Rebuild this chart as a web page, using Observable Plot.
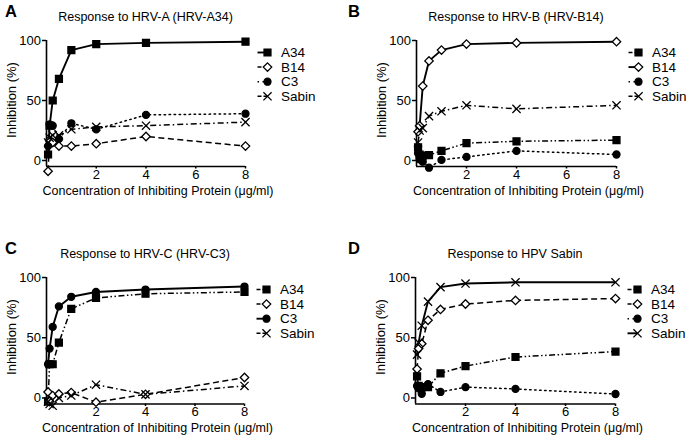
<!DOCTYPE html>
<html><head><meta charset="utf-8">
<script src="https://cdn.jsdelivr.net/npm/d3@7"></script>
<script src="https://cdn.jsdelivr.net/npm/@observablehq/plot@0.6"></script>
<style>
body{margin:0;background:#fff;}
#root{position:relative;width:686px;height:439px;font-family:"Liberation Sans",Arial,sans-serif;color:#000;overflow:hidden;}
.panel{position:absolute;}
</style></head><body><div id="root"></div>
<script>
// ---- data ----
const conc = [0.0625, 0.125, 0.25, 0.5, 1, 2, 4, 8];
const seriesNames = ["A34", "B14", "C3", "Sabin"];
const panelLetters = ["A", "B", "C", "D"];
const panelTitles = ["Response to HRV-A (HRV-A34)", "Response to HRV-B (HRV-B14)", "Response to HRV-C (HRV-C3)", "Response to HPV Sabin"];
const yTicks = [0, 50, 100];
const xTicks = [2, 4, 6, 8];
const xLabel = "Concentration of Inhibiting Protein (\u03bcg/ml)";
const yLabel = "Inhibition (%)";

// Panel A: Response to HRV-A
const a_A34   = [5, 29, 50, 68, 92, 97, 98, 99];
const a_B14   = [-9, 17, 15, 12, 12, 14, 20, 12];
const a_C3    = [12, 30, 29, 18, 31, 26, 38, 39];
const a_Sabin = [15, 19, 21, 21, 26, 28, 29, 32];
// Panel B: Response to HRV-B
const b_A34   = [11, 5, 4, 4.5, 8, 14.5, 16, 17];
const b_B14   = [24, 29, 62, 83, 92, 97, 98, 99];
const b_C3    = [6, 1, -1, -6, 0.5, 3, 8, 5];
const b_Sabin = [15, 25, 27, 37, 41, 46, 43, 46];
// Panel C: Response to HRV-C
const c_A34   = [-3, 28, 28, 46, 74, 83, 86.5, 88];
const c_B14   = [5, -3, 2, 3.3, 4.5, -3.5, 3, 17];
const c_C3    = [28, 41, 59, 76, 84, 88, 90, 92.5];
const c_Sabin = [-3, -5, -6.5, 0, 2, 11, 3, 10];
// Panel D: Response to HPV Sabin
const d_A34   = [18, 10, 9, 9, 20.5, 26.5, 34, 38.5];
const d_B14   = [24, 41, 45, 64.5, 73.5, 78, 81, 82.5];
const d_C3    = [10, 8, 3.5, 11.5, 5, 9, 7.5, 3.3];
const d_Sabin = [36, 46, 60, 80, 92, 95, 96, 96];

const panelData = [
  {A34: a_A34, B14: a_B14, C3: a_C3, Sabin: a_Sabin},
  {A34: b_A34, B14: b_B14, C3: b_C3, Sabin: b_Sabin},
  {A34: c_A34, B14: c_B14, C3: c_C3, Sabin: c_Sabin},
  {A34: d_A34, B14: d_B14, C3: d_C3, Sabin: d_Sabin}
];

// ---- styles / layout ----
const lineStyles = [
  {A34: "solid", B14: "dash", C3: "dot", Sabin: "dashdot"},
  {A34: "dashdotdot", B14: "solid", C3: "dot", Sabin: "dashdot"},
  {A34: "dashdotdot", B14: "dash", C3: "solid", Sabin: "dashdot"},
  {A34: "dashdotdot", B14: "dash", C3: "dot", Sabin: "solid"}
];
const dashes = {solid: null, dash: "6,3.5", dot: "1.5,3.5", dashdot: "6,3,1.5,3", dashdotdot: "6,2.5,1.5,2.5,1.5,2.5"};
const symbols = {
  A34: {symbol: "square", r: 3.9, fill: "black"},
  B14: {symbol: "diamond2", r: 3.8, fill: "white"},
  C3: {symbol: "circle", r: 3.5, fill: "black"},
  Sabin: {symbol: "times", r: 3.8, fill: "none"}
};
const yMin = -5;
const layout = [
  {left: 0,   top: 0,   w: 343, h: 220, mL: 46, mR: 98, mT: 40, mB: 54},
  {left: 343, top: 0,   w: 343, h: 220, mL: 73, mR: 70, mT: 40, mB: 54},
  {left: 0,   top: 220, w: 343, h: 219, mL: 46, mR: 99, mT: 57, mB: 35.5},
  {left: 343, top: 220, w: 343, h: 219, mL: 72, mR: 71, mT: 57, mB: 35.5}
];
const FONT = '"Liberation Sans", Arial, sans-serif';

const root = document.getElementById("root");
const overlay = d3.create("svg").attr("width", 686).attr("height", 439)
  .style("position", "absolute").style("left", 0).style("top", 0).style("pointer-events", "none")
  .attr("font-family", FONT).attr("fill", "black");

function addText(txt, x, y, size, opts = {}) {
  const t = overlay.append("text")
    .attr("x", x).attr("y", y)
    .attr("font-size", size)
    .attr("text-anchor", opts.anchor || "middle")
    .attr("dominant-baseline", "central")
    .text(txt);
  if (opts.bold) t.attr("font-weight", "bold");
  if (opts.rotate) t.attr("transform", `rotate(${opts.rotate},${x},${y})`);
  return t;
}

layout.forEach((L, pi) => {
  const rows = [];
  seriesNames.forEach(s => panelData[pi][s].forEach((v, i) => rows.push({series: s, x: conc[i], y: v})));
  const marks = [
    Plot.ruleX([0], {strokeWidth: 1.6}),
    Plot.ruleY([yMin], {strokeWidth: 1.6}),
    Plot.axisY({ticks: yTicks, tickSize: 4, tickPadding: 1.5, label: null, strokeWidth: 1.5}),
    Plot.axisX({ticks: xTicks, tickSize: 2.5, tickPadding: 0.5, label: null, strokeWidth: 1.5})
  ];
  seriesNames.forEach(s => {
    const st = lineStyles[pi][s];
    marks.push(Plot.line(rows.filter(d => d.series === s), {
      x: "x", y: "y", stroke: "black",
      strokeWidth: st === "solid" ? 1.9 : 1.5,
      strokeDasharray: dashes[st] || undefined,
      strokeLinecap: st === "dot" ? "round" : "butt"
    }));
  });
  seriesNames.forEach(s => {
    const sy = symbols[s];
    marks.push(Plot.dot(rows.filter(d => d.series === s), {
      x: "x", y: "y", symbol: sy.symbol, r: sy.r, fill: sy.fill, stroke: "black", strokeWidth: 1.3
    }));
  });
  const chart = Plot.plot({
    width: L.w, height: L.h,
    marginLeft: L.mL, marginRight: L.mR, marginTop: L.mT, marginBottom: L.mB,
    x: {domain: [0, 8]},
    y: {domain: [yMin, 100]},
    style: {fontFamily: FONT, fontSize: "13px", color: "black", background: "transparent", overflow: "visible"},
    marks
  });
  const wrap = document.createElement("div");
  wrap.className = "panel";
  wrap.style.left = L.left + "px";
  wrap.style.top = L.top + "px";
  wrap.appendChild(chart);
  root.appendChild(wrap);

  const plotW = L.w - L.mL - L.mR;
  const plotH = L.h - L.mT - L.mB;
  const zeroY = L.mT + plotH * 100 / (100 - yMin);
  addText(panelLetters[pi], L.left + 5, L.top + L.mT - 29, 16.5, {anchor: "start", bold: true});
  addText(panelTitles[pi], L.left + L.mL + plotW / 2, L.top + L.mT - 23, 12.5);
  addText(xLabel, L.left + L.mL + plotW / 2 + 12.5, L.top + zeroY + 30.5, 12.5);
  addText(yLabel, L.left + L.mL - 35, L.top + L.mT + 60, 13, {rotate: -90});

  const mx = L.left + L.w - L.mR + 22.5;
  seriesNames.forEach((s, i) => {
    const y = L.top + L.mT + 12.5 + i * 14.6;
    const st = lineStyles[pi][s];
    const g = overlay.append("g");
    g.append("line").attr("x1", mx - 10).attr("x2", mx).attr("y1", y).attr("y2", y)
      .attr("stroke", "black").attr("stroke-width", st === "solid" ? 1.9 : 1.5)
      .attr("stroke-dasharray", st === "dot" ? "1.5,3.5" : st === "solid" ? null : "4,2");
    const sy = symbols[s];
    const typeMap = {square: d3.symbolSquare, diamond2: d3.symbolDiamond2, circle: d3.symbolCircle, times: d3.symbolTimes};
    g.append("path").attr("transform", `translate(${mx},${y})`)
      .attr("d", d3.symbol(typeMap[sy.symbol], Math.PI * sy.r * sy.r)())
      .attr("fill", sy.fill).attr("stroke", "black").attr("stroke-width", 1.3);
    addText(s, mx + 13.5, y, 13.5, {anchor: "start"});
  });
});
root.appendChild(overlay.node());
</script>
</body></html>
